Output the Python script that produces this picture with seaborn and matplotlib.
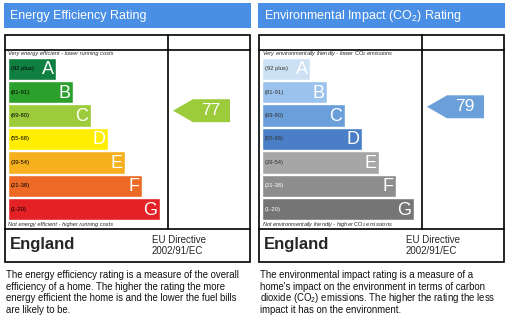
import matplotlib
matplotlib.use("Agg")
import matplotlib.pyplot as plt
import seaborn as sns
from matplotlib.patches import Rectangle, Polygon

# ---------------- data ----------------
bands = ["A", "B", "C", "D", "E", "F", "G"]
band_ranges = ["(92 plus)", "(81-91)", "(69-80)", "(55-68)", "(39-54)", "(21-38)", "(1-20)"]
band_low = [92, 81, 69, 55, 39, 21, 1]
band_high = [100, 91, 80, 68, 54, 38, 20]
bar_lengths = [48, 65, 83, 100, 117, 134, 152]

ee_colors = ["#0f8040", "#2ca02c", "#9ccb3b", "#ffee00", "#f6b01e", "#ec6a25", "#e42124"]
ei_colors = ["#cde1f4", "#9bc2ec", "#6b9fd9", "#4a7ec6", "#a6a6a6", "#8d8d8d", "#757575"]
ei_label_colors = ["#333333", "#333333", "#333333", "#333333", "#333333", "white", "white"]

ee_rating = 77
ei_rating = 79

ee_title = "Energy Efficiency Rating"
ei_title = r"Environmental Impact ($\mathrm{CO_2}$) Rating"
ee_top = "Very energy efficient - lower running costs"
ee_bottom = "Not energy efficient - higher running costs"
ei_top = r"Very environmentally friendly - lower $\mathrm{CO_2}$ emissions"
ei_bottom = r"Not environmentally friendly - higher $\mathrm{CO_2}$ emissions"
country = "England"
directive = ["EU Directive", "2002/91/EC"]
ee_desc = ["The energy efficiency rating is a measure of the overall",
           "efficiency of a home. The higher the rating the more",
           "energy efficient the home is and the lower the fuel bills",
           "are likely to be."]
ei_desc = ["The environmental impact rating is a measure of a",
           "home's impact on the environment in terms of carbon",
           r"dioxide ($\mathrm{CO_2}$) emissions. The higher the rating the less",
           "impact it has on the environment."]

# ---------------- style ----------------
sns.set_theme(style="white")
plt.rcParams["font.family"] = ["Liberation Sans", "DejaVu Sans"]
plt.rcParams["mathtext.fontset"] = "custom"
plt.rcParams["mathtext.rm"] = "Liberation Sans"
plt.rcParams["mathtext.it"] = "Liberation Sans:italic"
plt.rcParams["mathtext.bf"] = "Liberation Sans:bold"

W, H = 513, 329
fig = plt.figure(figsize=(W / 100, H / 100), dpi=100)
fig.patch.set_facecolor("white")

canvas = fig.add_axes([0, 0, 1, 1])
canvas.set_xlim(0, W)
canvas.set_ylim(H, 0)
canvas.axis("off")


def px_axes(x0, y0, x1, y1):
    return fig.add_axes([x0 / W, 1 - y1 / H, (x1 - x0) / W, (y1 - y0) / H])


def panel(ox, title, colors, label_colors, rating, top_txt, bot_txt, desc):
    # title bar
    canvas.add_patch(Rectangle((ox + 4, 3), 247, 25, facecolor="#4a8fe6", edgecolor="none"))
    canvas.text(ox + 10, 16, title, color="white", fontsize=9, va="center", ha="left")
    # frame
    lw = 1.2
    canvas.add_patch(Rectangle((ox + 5, 35), 245, 227, facecolor="none", edgecolor="black", lw=lw))
    canvas.plot([ox + 5, ox + 250], [50, 50], color="black", lw=lw)
    canvas.plot([ox + 5, ox + 250], [229, 229], color="black", lw=lw)
    canvas.plot([ox + 168, ox + 168], [35, 229], color="black", lw=lw)
    canvas.text(ox + 8, 53, top_txt, fontsize=4.1, style="italic", va="center", ha="left")
    canvas.text(ox + 8, 224.5, bot_txt, fontsize=4.1, style="italic", va="center", ha="left")
    canvas.text(ox + 10, 245, country, fontsize=12, fontweight="bold", va="center", ha="left")
    canvas.text(ox + 152, 240, directive[0], fontsize=7, va="center", ha="left")
    canvas.text(ox + 152, 251, directive[1], fontsize=7, va="center", ha="left")
    for i, line in enumerate(desc):
        canvas.text(ox + 6, 275 + i * 11.6, line, fontsize=6.95, va="center", ha="left", color="#111111")

    # bars
    ax = px_axes(ox + 8, 57, ox + 250, 221)
    sns.barplot(x=bar_lengths, y=bands, hue=bands, palette=colors, orient="h",
                width=0.95, saturation=1, legend=False, ax=ax)
    ax.set_xlim(0, 242)
    ax.set_ylim(6.5, -0.5)
    ax.axis("off")
    for i, (b, r, L) in enumerate(zip(bands, band_ranges, bar_lengths)):
        ax.text(3, i, r, fontsize=4.2, va="center", ha="left", color=label_colors[i])
        ax.text(L - 2.5, i + 0.04, b, fontsize=13, va="center", ha="right", color="white")

    # rating arrow
    k = next(i for i in range(len(bands)) if band_low[i] <= rating <= band_high[i])
    yc = k - 0.5 + (band_high[k] - rating + 0.5) / (band_high[k] - band_low[k] + 1)
    h = 0.49
    tip = 165
    poly = Polygon([(tip, yc), (tip + 20, yc - h), (tip + 57, yc - h),
                    (tip + 57, yc + h), (tip + 20, yc + h)],
                   closed=True, facecolor=colors[k], edgecolor="none", clip_on=False)
    ax.add_patch(poly)
    ax.text(tip + 38, yc, str(rating), fontsize=12.5, color="white", va="center", ha="center")


panel(0, ee_title, ee_colors, ["black"] * 7, ee_rating, ee_top, ee_bottom, ee_desc)
panel(254, ei_title, ei_colors, ei_label_colors, ei_rating, ei_top, ei_bottom, ei_desc)

fig.savefig("out.png", dpi=100, facecolor="white")
